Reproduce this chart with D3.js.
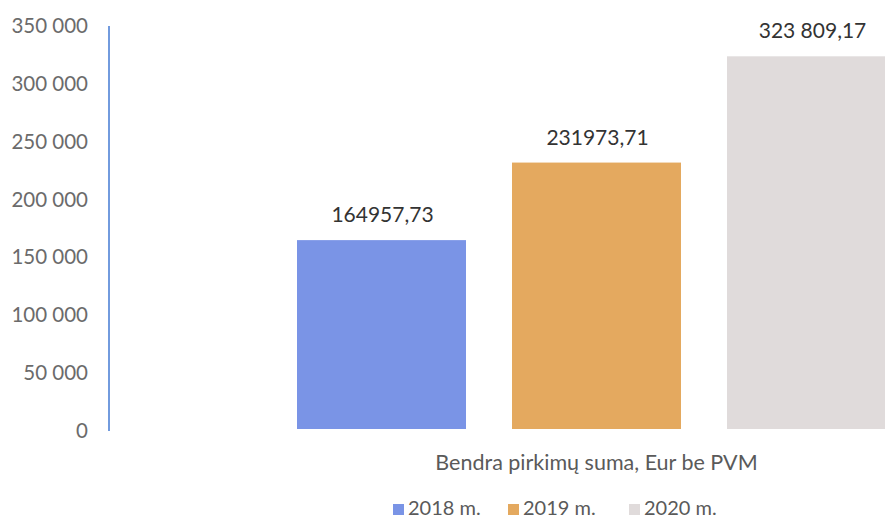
<!DOCTYPE html>
<html>
<head>
<meta charset="utf-8">
<script src="https://cdn.jsdelivr.net/npm/d3@7"></script>
<style>
  body { margin: 0; background: #fff; }
  text { font-family: "Lato", "Open Sans", sans-serif; }
</style>
</head>
<body>
<svg id="chart"></svg>
<script>
/* data */
const categories = ["Bendra pirkimų suma, Eur be PVM"];
const years = ["2018 m.", "2019 m.", "2020 m."];
const values = [164957.73, 231973.71, 323809.17];
const valueLabels = ["164957,73", "231973,71", "323 809,17"];
const yTicks = [0, 50000, 100000, 150000, 200000, 250000, 300000, 350000];
const colors = ["#7a94e6", "#e4a95f", "#e0dbdb"];

(function() {
  let width = 885, height = 521;
  let margin = {top: 26, left: 109, bottom: 91};

  let svg = d3.select("#chart")
    .attr("width", width)
    .attr("height", height);

  // plot runs past the right edge, as in the scan
  let x0 = d3.scaleBand()
    .domain(categories)
    .range([margin.left, 1084]);

  let x1 = d3.scaleBand()
    .domain(years)
    .range([x0(categories[0]) + 188, x0(categories[0]) + x0.bandwidth() - 188])
    .paddingInner(0.214);

  let y = d3.scaleLinear()
    .domain([0, 350000])
    .range([height - margin.bottom + 1, margin.top]);

  // y axis labels
  let fmt = d => d3.format(",")(d).replace(/,/g, " ");
  svg.append("g")
    .attr("transform", "translate(" + 88 + ",0)")
    .call(d3.axisLeft(y).tickValues(yTicks).tickFormat(fmt).tickSize(0).tickPadding(0))
    .call(g => g.select(".domain").remove())
    .selectAll("text")
    .attr("fill", "#6b6b6b")
    .style("font-size", "20.5px")
    .style("font-family", "Lato, sans-serif");

  // axis line
  svg.append("line")
    .attr("x1", margin.left).attr("x2", margin.left)
    .attr("y1", y(350000)).attr("y2", y(0))
    .attr("stroke", "#4f82d6")
    .attr("stroke-width", 1.6);

  // bars
  svg.selectAll(".bar")
    .data(values)
    .enter().append("rect")
    .attr("class", "bar")
    .attr("x", (d, i) => x1(years[i]))
    .attr("width", x1.bandwidth())
    .attr("y", d => y(d))
    .attr("height", d => y(0) - y(d) - 2)
    .attr("fill", (d, i) => colors[i]);

  // value labels
  svg.selectAll(".val")
    .data(values)
    .enter().append("text")
    .attr("class", "val")
    .attr("x", (d, i) => x1(years[i]) + x1.bandwidth() / 2 + 1)
    .attr("y", d => y(d) - 18)
    .attr("text-anchor", "middle")
    .attr("fill", "#333")
    .style("font-size", "21px")
    .text((d, i) => valueLabels[i]);

  // category label
  svg.append("text")
    .attr("x", x0(categories[0]) + x0.bandwidth() / 2)
    .attr("y", 470)
    .attr("text-anchor", "middle")
    .attr("fill", "#5a5a5a")
    .style("font-size", "21.5px")
    .text(categories[0]);

  // legend
  let lx = [393, 508, 629];
  let leg = svg.selectAll(".leg")
    .data(years)
    .enter().append("g")
    .attr("class", "leg")
    .attr("transform", (d, i) => "translate(" + lx[i] + ",515)");
  leg.append("rect")
    .attr("x", 0).attr("y", -11)
    .attr("width", 11).attr("height", 11)
    .attr("fill", (d, i) => colors[i]);
  leg.append("text")
    .attr("x", 15).attr("y", 0)
    .attr("fill", "#5a5a5a")
    .style("font-size", "20px")
    .text(d => d);
})();
</script>
</body>
</html>
